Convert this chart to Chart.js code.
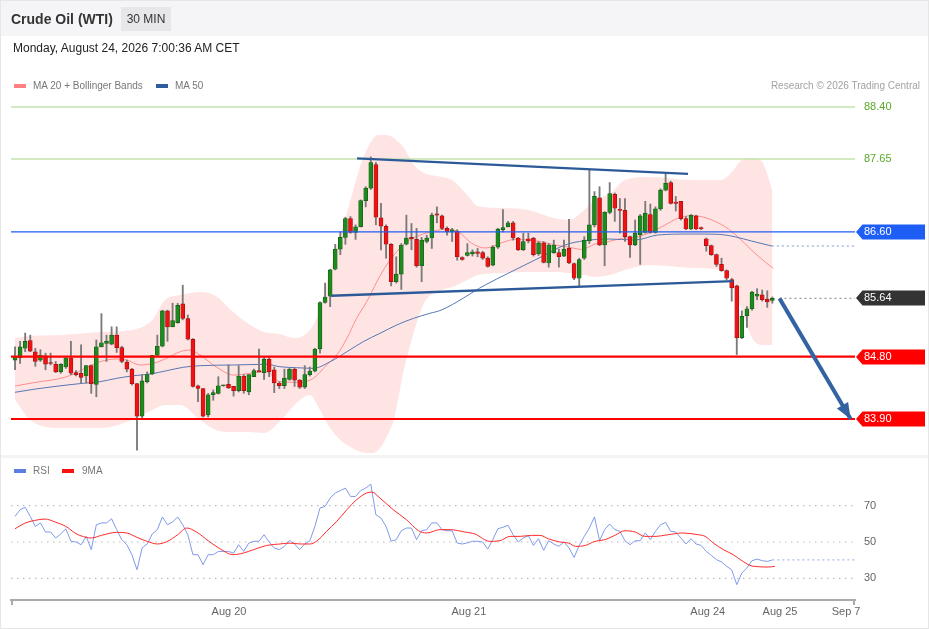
<!DOCTYPE html>
<html lang="en">
<head>
<meta charset="utf-8">
<title>Crude Oil (WTI) - 30 MIN</title>
<script src="https://cdn.jsdelivr.net/npm/chart.js@4.4.1/dist/chart.umd.min.js"></script>
<style>
  html, body { margin: 0; padding: 0; background: #fff; }
  #frame { position: relative; width: 929px; height: 629px; overflow: hidden;
           font-family: "Liberation Sans", Arial, sans-serif; color: #333; }
  #frame .topbar { position: absolute; left: 0; top: 0; width: 929px; height: 36px; background: #f5f5f7; }
  #frame .title { position: absolute; left: 11px; top: 10px; font-size: 14px; font-weight: bold; line-height: 18px; color: #333; }
  #frame .period { position: absolute; left: 121px; top: 7px; width: 50px; height: 24px; line-height: 24px;
                   text-align: center; font-size: 12px; background: #e7e7ea; color: #333; }
  #frame .stamp { position: absolute; left: 13px; top: 41px; font-size: 12px; line-height: 15px; color: #222; }
  #frame .key { position: absolute; width: 12px; height: 4px; }
  #frame .keytext { position: absolute; font-size: 10px; line-height: 12px; color: #777; }
  #frame .credit { position: absolute; right: 9px; top: 80px; font-size: 10px; line-height: 12px; color: #a2a2a2; }
  #frame .gap { position: absolute; left: 0; top: 455px; width: 929px; height: 3px; background: #f4f4f6; }
  #frame .edge { position: absolute; left: 0; top: 0; right: 0; bottom: 0; border: 1px solid #e6e6e6; pointer-events: none; }
  #chart { position: absolute; left: 0; top: 0; }
</style>
</head>
<body>
<div id="frame">
  <div class="topbar"></div>
  <div class="gap"></div>
  <canvas id="chart" width="929" height="629"></canvas>
  <div class="title">Crude Oil (WTI)</div>
  <div class="period">30 MIN</div>
  <div class="stamp">Monday, August 24, 2026 7:00:36 AM CET</div>
  <div class="key" style="left:14px;top:84px;background:#ff8080"></div>
  <div class="keytext" style="left:33px;top:80px">MA 20 + Bollinger Bands</div>
  <div class="key" style="left:156px;top:84px;background:#2f5d9e"></div>
  <div class="keytext" style="left:175px;top:80px">MA 50</div>
  <div class="credit">Research © 2026 Trading Central</div>
  <div class="key" style="left:14px;top:469px;background:#5b7fe6"></div>
  <div class="keytext" style="left:33px;top:465px">RSI</div>
  <div class="key" style="left:62px;top:469px;background:#ff1010"></div>
  <div class="keytext" style="left:82px;top:465px">9MA</div>
  <div class="edge"></div>
</div>
<script>
// 30 min candles, index 0 = first candle on the left
const candleOpen = [
  84.75, 84.78, 84.92, 85.03, 84.87, 84.75, 84.81, 84.71, 84.69, 84.58,
  84.65, 84.78, 84.57, 84.56, 84.52, 84.67, 84.40, 84.94, 84.99, 84.98,
  85.11, 84.93, 84.72, 84.62, 84.41, 83.94, 84.44, 84.55, 84.82, 84.95,
  85.46, 85.23, 85.29, 85.56, 85.35, 85.05, 84.38, 84.34, 83.96, 84.25,
  84.27, 84.38, 84.40, 84.37, 84.31, 84.52, 84.29, 84.51, 84.60, 84.57,
  84.76, 84.61, 84.42, 84.38, 84.47, 84.62, 84.46, 84.36, 84.54, 84.59,
  84.91, 85.58, 85.67, 86.06, 86.35, 86.52, 86.79, 86.59, 86.67, 87.05,
  87.23, 87.57, 86.80, 86.68, 86.42, 85.88, 85.99, 86.42, 86.52, 86.49,
  86.11, 86.46, 86.51, 86.86, 86.83, 86.65, 86.60, 86.61, 86.23, 86.26,
  86.28, 86.31, 86.30, 86.22, 86.12, 86.38, 86.63, 86.67, 86.73, 86.51,
  86.34, 86.50, 86.51, 86.28, 86.44, 86.15, 86.30, 86.30, 86.25, 86.36,
  86.14, 85.93, 86.22, 86.47, 86.70, 87.09, 86.41, 86.88, 87.14, 86.92,
  86.91, 86.53, 86.41, 86.56, 86.59, 86.85, 86.59, 86.93, 87.20, 87.31,
  87.03, 87.04, 86.79, 86.64, 86.83, 86.66, 86.50, 86.40, 86.27, 86.13,
  86.04, 85.91, 85.82, 85.07, 85.39, 85.49, 85.67, 85.69, 85.63, 85.61
];
const candleHigh = [
  84.94, 85.02, 85.14, 85.11, 84.92, 84.90, 84.85, 84.85, 84.73, 84.70,
  84.79, 85.02, 84.60, 84.97, 84.67, 84.68, 85.04, 85.42, 85.11, 85.23,
  85.23, 84.95, 84.75, 84.63, 84.41, 84.54, 84.58, 84.82, 85.11, 85.47,
  85.47, 85.57, 85.57, 85.83, 85.40, 85.06, 84.39, 84.34, 84.27, 84.32,
  84.51, 84.39, 84.68, 84.37, 84.67, 84.54, 84.54, 84.62, 84.91, 84.80,
  84.80, 84.65, 84.44, 84.62, 84.63, 84.63, 84.47, 84.67, 84.65, 84.92,
  85.59, 85.86, 86.06, 86.42, 86.60, 86.81, 86.82, 86.70, 87.06, 87.25,
  87.68, 87.60, 87.01, 86.70, 86.43, 86.24, 86.43, 86.84, 86.72, 86.65,
  86.52, 86.55, 86.87, 86.96, 86.84, 86.67, 86.65, 86.63, 86.24, 86.43,
  86.34, 86.36, 86.32, 86.24, 86.40, 86.65, 86.92, 86.75, 86.75, 86.52,
  86.58, 86.58, 86.52, 86.46, 86.46, 86.43, 86.48, 86.35, 86.48, 86.78,
  86.15, 86.22, 86.53, 87.49, 87.18, 87.25, 86.89, 87.31, 87.16, 87.08,
  87.08, 86.54, 86.77, 86.85, 87.04, 87.00, 86.96, 87.22, 87.44, 87.33,
  87.11, 87.04, 86.82, 86.85, 86.84, 86.67, 86.51, 86.41, 86.28, 86.22,
  86.05, 85.93, 85.83, 85.46, 85.52, 85.74, 85.78, 85.76, 85.75, 85.66
];
const candleLow = [
  84.61, 84.70, 84.87, 84.87, 84.66, 84.73, 84.61, 84.68, 84.57, 84.56,
  84.63, 84.54, 84.52, 84.42, 84.42, 84.27, 84.22, 84.94, 84.73, 84.97,
  84.86, 84.71, 84.58, 84.39, 83.45, 83.92, 84.42, 84.54, 84.80, 84.94,
  85.02, 85.23, 85.28, 85.33, 85.04, 84.36, 84.15, 83.93, 83.93, 84.17,
  84.26, 84.37, 84.34, 84.23, 84.29, 84.27, 84.25, 84.51, 84.58, 84.47,
  84.51, 84.28, 84.34, 84.34, 84.46, 84.37, 84.34, 84.34, 84.52, 84.58,
  84.85, 85.57, 85.52, 86.05, 86.27, 86.42, 86.58, 86.49, 86.67, 86.96,
  87.21, 86.70, 86.34, 86.22, 85.82, 85.86, 85.77, 86.41, 86.34, 86.09,
  85.88, 86.44, 86.36, 86.73, 86.63, 86.55, 86.46, 86.19, 86.19, 86.25,
  86.25, 86.24, 86.20, 86.09, 86.11, 86.36, 86.60, 86.67, 86.48, 86.33,
  86.33, 86.44, 86.25, 86.26, 86.15, 86.09, 86.29, 86.09, 86.24, 86.14,
  85.91, 85.82, 86.20, 86.43, 86.67, 86.40, 86.11, 86.86, 86.75, 86.58,
  86.46, 86.23, 86.40, 86.13, 86.58, 86.58, 86.58, 86.91, 87.19, 87.00,
  86.90, 86.77, 86.63, 86.63, 86.63, 86.63, 86.32, 86.26, 86.10, 86.03,
  85.91, 85.60, 84.83, 85.06, 85.22, 85.47, 85.62, 85.60, 85.51, 85.57
];
const candleClose = [
  84.80, 84.94, 85.02, 84.88, 84.73, 84.82, 84.69, 84.70, 84.58, 84.69,
  84.78, 84.56, 84.54, 84.50, 84.67, 84.41, 84.94, 85.00, 85.02, 85.11,
  84.93, 84.73, 84.62, 84.41, 83.94, 84.45, 84.54, 84.82, 84.95, 85.46,
  85.23, 85.32, 85.54, 85.35, 85.05, 84.37, 84.34, 83.94, 84.25, 84.28,
  84.38, 84.39, 84.35, 84.31, 84.52, 84.31, 84.54, 84.60, 84.58, 84.76,
  84.58, 84.42, 84.38, 84.49, 84.62, 84.46, 84.36, 84.54, 84.59, 84.91,
  85.58, 85.66, 86.05, 86.35, 86.52, 86.79, 86.59, 86.67, 87.05, 87.23,
  87.60, 86.81, 86.68, 86.42, 85.88, 85.99, 86.41, 86.51, 86.50, 86.11,
  86.48, 86.51, 86.84, 86.84, 86.65, 86.60, 86.63, 86.24, 86.20, 86.30,
  86.31, 86.29, 86.22, 86.10, 86.38, 86.64, 86.66, 86.73, 86.51, 86.34,
  86.46, 86.47, 86.27, 86.44, 86.16, 86.41, 86.41, 86.24, 86.35, 86.15,
  85.93, 86.20, 86.48, 86.70, 87.11, 86.41, 86.88, 87.15, 86.94, 86.91,
  86.53, 86.41, 86.58, 86.83, 86.87, 86.59, 86.93, 87.20, 87.30, 87.01,
  87.01, 86.79, 86.64, 86.84, 86.64, 86.64, 86.40, 86.27, 86.13, 86.04,
  85.93, 85.79, 85.07, 85.38, 85.49, 85.73, 85.70, 85.62, 85.59, 85.64
];

// indicator lines, [candle index, value] read at points along each curve
const ma20 = [[0,84.376],[3.6,84.423],[10.2,84.51],[16.7,84.726],[20,84.765],[22,84.751],[24.6,84.679],
  [27.2,84.703],[29.8,84.775],[32.5,84.871],[34.4,84.895],[36.4,84.823],[39.7,84.646],[43,84.534],
  [46.2,84.559],[49.5,84.582],[52.1,84.438],[56.1,84.429],[58.7,84.487],[61.3,84.679],[63.3,84.823],
  [65.3,85.064],[67.2,85.352],[69.2,85.592],[71.2,85.88],[73.1,86.121],[75.1,86.313],[77.1,86.457],
  [79.7,86.554],[81.6,86.593],[84.6,86.636],[87.2,86.601],[89.8,86.438],[92.5,86.366],[95.8,86.443],
  [98.4,86.492],[100.9,86.482],[103.6,86.457],[106.2,86.41],[108.8,86.381],[111.5,86.347],[114.1,86.424],
  [116.7,86.457],[119.4,86.506],[122.6,86.529],[125.3,86.601],[127.9,86.698],[130.4,86.795],[133.1,86.832],
  [135.1,86.818],[137.1,86.77],[139.7,86.673],[142.2,86.529],[144.9,86.337],[147.5,86.169],[149.2,86.073]];
const ma50 = [[0,84.285],[3.6,84.328],[10.2,84.39],[13.4,84.415],[16.7,84.438],[20,84.487],[23.3,84.524],
  [26.6,84.549],[29.8,84.596],[33.1,84.646],[36.4,84.669],[43,84.679],[49.5,84.689],[52.1,84.654],
  [55.4,84.64],[58.7,84.631],[62,84.726],[65.3,84.871],[68.5,85.015],[71.8,85.136],[75.1,85.256],
  [78.4,85.352],[81.6,85.424],[83.9,85.472],[92.5,85.833],[97,86.001],[103.6,86.241],[108.2,86.41],
  [112.1,86.472],[116.7,86.496],[122,86.482],[126.5,86.554],[133.1,86.568],[138.3,86.564],[141.6,86.529],
  [144.9,86.467],[148.9,86.395]];
const bbIndex = [0,3,9,17,23,27,29.5,32.5,36.4,39.5,42.5,46,49,52,55,58,60,62,64,66,68,70,71.5,73,74.5,
  76.5,78.5,80.5,84,86,89,91,96,101,106,109,112,114,117,120,125,133,139,141,143,145,147,149];
const bbUpper = [85.068,85.097,85.111,85.155,85.184,85.328,85.616,85.688,85.732,85.674,85.472,85.27,85.155,
  85.126,85.068,85.184,85.472,86.049,86.554,87.059,87.564,87.895,87.996,87.996,87.953,87.809,87.564,87.448,
  87.39,87.347,87.131,86.972,86.943,86.914,86.799,86.77,86.914,87.059,87.145,87.347,87.39,87.347,87.347,
  87.462,87.636,87.664,87.607,87.203];
const bbLower = [84.174,83.885,83.77,83.77,83.885,84.03,84.102,84.102,83.885,83.741,83.712,83.712,83.698,
  83.856,84.102,84.246,84.03,83.77,83.597,83.496,83.424,83.409,83.453,83.626,83.885,84.606,85.155,85.573,
  85.76,85.804,85.905,85.977,86.006,86.02,86.02,86.006,85.977,85.948,85.977,86.049,86.121,86.078,86.049,
  85.905,85.472,85.068,84.967,84.967];

// RSI, one value per candle
const rsiValues = [
  64.1, 67.8, 69.1, 64.1, 58.6, 60.5, 55.5, 55.5, 52.2, 54.4,
  57.3, 50.4, 50.0, 48.5, 53.1, 45.8, 59.5, 60.5, 60.5, 62.8,
  56.8, 51.3, 48.5, 43.0, 34.7, 46.7, 48.9, 54.4, 56.8, 63.8,
  59.5, 61.0, 63.8, 59.5, 54.0, 43.0, 43.0, 37.5, 43.0, 43.0,
  44.8, 44.8, 44.8, 43.9, 48.5, 44.8, 49.4, 50.4, 50.4, 54.0,
  50.0, 46.7, 45.8, 47.6, 50.9, 48.9, 45.8, 48.9, 50.7, 58.6,
  68.7, 69.6, 74.2, 77.0, 78.3, 79.7, 75.1, 75.1, 78.3, 79.7,
  81.9, 65.0, 63.2, 58.6, 50.4, 51.3, 56.2, 57.7, 57.7, 51.3,
  56.2, 56.8, 60.5, 60.5, 56.8, 56.2, 56.2, 49.4, 48.9, 49.5,
  50.4, 50.4, 50.0, 46.1, 51.3, 57.3, 58.1, 59.2, 54.0, 50.0,
  52.2, 53.5, 48.1, 51.8, 45.4, 50.7, 48.9, 47.6, 50.0, 46.7,
  41.5, 48.1, 53.1, 57.7, 63.8, 50.7, 56.8, 59.9, 56.8, 55.9,
  50.7, 48.5, 50.7, 50.7, 55.0, 51.3, 55.9, 59.5, 60.8, 55.9,
  55.5, 52.2, 48.9, 51.8, 48.9, 48.1, 44.8, 42.6, 40.3, 39.0,
  36.6, 34.7, 26.5, 32.9, 35.7, 39.7, 40.6, 39.7, 39.3, 40.1
];
const rsiMa9 = [[0,57.3],[2,60.45],[3.9,61.9],[5.9,62.65],[7.9,61],[10,58.6],[12,54.6],[14,52.55],[15,52.2],
  [17,53.65],[20,55.3],[22,54.95],[24,52.55],[26,50.35],[28,48.9],[30,50.35],[32,54],[33.8,57.7],[35.7,55.5],
  [38,50.7],[40.3,46.3],[42.9,43],[44.9,43.9],[46.9,45.75],[49.5,48.1],[52.1,48.9],[54.1,49.4],[56.1,48.9],
  [58,48.9],[59.3,50.35],[61.3,55.85],[63.3,61.4],[65.3,67.8],[67.2,73.3],[69.2,77],[70.2,77.5],[71.8,74.2],
  [74.4,67.8],[77,62.3],[79.4,56.2],[81,54.95],[83.6,56.8],[85.6,56.8],[88.5,55.5],[90.5,54.4],[93.4,50.35],
  [95.4,50.7],[97.4,53.1],[99.4,53.1],[101.6,53.65],[103.3,53.65],[104.9,51.8],[107.2,50],[108.9,49.4],
  [110.3,47.6],[112.2,48.1],[114.1,50.35],[116.1,51.3],[118,53.65],[120,56.2],[122,55.5],[123.9,53.1],
  [125.9,53.1],[128.5,54],[131.2,54.95],[134.4,54],[135.8,53.1],[137.4,49.4],[139.4,45.75],[141.3,43],
  [143,39.7],[144.6,37.1],[146.2,36.4],[148.2,36.2],[149.5,36.6]];

// key levels and drawn lines
const targetLevels = [88.40, 87.65];
const pivotLevel = 86.60;
const supportLevels = [84.80, 83.90];
const lastPrice = 85.64;
const resistanceLine = [[67.3, 87.66], [132.4, 87.434]];
const supportLine = [[62.2, 85.678], [141.3, 85.89]];
const targetPath = [[150.4, 85.64], [164.4, 83.90]];
const rsiLevels = [30, 50, 70];

// date ticks (candle index) and their labels
const dateTickPos = [42.1, 89.3, 136.3, 150.5, 163.5];
const dateTickLabels = ['Aug 20', 'Aug 21', 'Aug 24', 'Aug 25', 'Sep 7'];

const X_MIN = -0.79, X_MAX = 165.26;
const UP = '#1d8a1d', UP_EDGE = '#145c14', DOWN = '#f01212', DOWN_EDGE = '#9c1010';
const GREEN_TXT = '#5aa829';

const pts = pairs => pairs.map(([x, y]) => ({x, y}));
const flat = (v, x0, x1) => [{x: x0, y: v}, {x: x1, y: v}];
const isUp = candleOpen.map((o, i) => candleClose[i] >= o);
const lastX = candleOpen.length - 1;

const smooth = {pointRadius: 0, cubicInterpolationMode: 'monotone', fill: false};
const plain = {pointRadius: 0, tension: 0, fill: false};

const datasets = [
  Object.assign({label: 'BB upper', data: bbIndex.map((x, k) => ({x, y: bbUpper[k]})),
    borderWidth: 0, backgroundColor: 'rgba(255,170,170,0.32)', order: 30}, smooth, {fill: '+1'}),
  Object.assign({label: 'BB lower', data: bbIndex.map((x, k) => ({x, y: bbLower[k]})),
    borderWidth: 0, order: 30}, smooth),
  Object.assign({label: 'MA 50', data: pts(ma50), borderColor: '#5577b4', borderWidth: 1, order: 20}, smooth),
  Object.assign({label: 'MA 20', data: pts(ma20), borderColor: '#ff8c8c', borderWidth: 1, order: 20}, smooth),
  Object.assign({label: 'MA 50 ext', data: flat(ma50[ma50.length - 1][1], ma50[ma50.length - 1][0], X_MAX),
    borderColor: '#a9bbe0', borderWidth: 1.4, borderDash: [2, 3], order: 20}, plain),
  {type: 'bar', label: 'wick', data: candleOpen.map((o, i) => ({x: i, y: [candleLow[i], candleHigh[i]]})),
    backgroundColor: '#7a7a7a', barThickness: 1.2, grouped: false, order: 12},
  {type: 'bar', label: 'body', data: candleOpen.map((o, i) => ({x: i, y: [o, candleClose[i]]})),
    backgroundColor: isUp.map(u => u ? UP : DOWN), borderColor: isUp.map(u => u ? UP_EDGE : DOWN_EDGE),
    borderWidth: 0.7, borderSkipped: false, barThickness: 4, minBarLength: 1, grouped: false, order: 11}
];
targetLevels.forEach(v => datasets.push(Object.assign({label: 'target ' + v, data: flat(v, X_MIN, X_MAX),
  borderColor: '#c3e2ae', borderWidth: 1.6, order: 8}, plain)));
datasets.push(Object.assign({label: 'pivot', data: flat(pivotLevel, X_MIN, X_MAX),
  borderColor: '#1f5ef5', borderWidth: 1.3, order: 8}, plain));
supportLevels.forEach(v => datasets.push(Object.assign({label: 'support ' + v, data: flat(v, X_MIN, X_MAX),
  borderColor: '#ff0000', borderWidth: 2.2, order: 8}, plain)));
datasets.push(Object.assign({label: 'last', data: flat(lastPrice, targetPath[0][0], X_MAX),
  borderColor: '#9a9a9a', borderWidth: 1.2, borderDash: [2, 3], order: 8}, plain));
datasets.push(Object.assign({label: 'resistance line', data: pts(resistanceLine),
  borderColor: '#2c5a98', borderWidth: 2.3, order: 5}, plain));
datasets.push(Object.assign({label: 'support line', data: pts(supportLine),
  borderColor: '#2c5a98', borderWidth: 2.3, order: 5}, plain));
const arrowIndex = datasets.length;
datasets.push(Object.assign({label: 'target path', data: pts(targetPath),
  borderColor: '#3363a3', borderWidth: 4, order: 4}, plain));
rsiLevels.forEach(v => datasets.push(Object.assign({label: 'rsi ' + v, yAxisID: 'yRsi', data: flat(v, X_MIN, X_MAX),
  borderColor: '#bdbdbd', borderWidth: 1.2, borderDash: [1.5, 4.5], order: 30}, plain)));
datasets.push(Object.assign({label: 'RSI', yAxisID: 'yRsi', data: rsiValues.map((y, x) => ({x, y})),
  borderColor: '#7f9aea', borderWidth: 1, order: 6}, plain));
datasets.push(Object.assign({label: '9MA', yAxisID: 'yRsi', data: pts(rsiMa9),
  borderColor: '#ff2a2a', borderWidth: 1, order: 5}, smooth));
datasets.push(Object.assign({label: 'RSI ext', yAxisID: 'yRsi', data: flat(rsiValues[lastX], lastX, X_MAX),
  borderColor: '#a9bbe9', borderWidth: 1.2, borderDash: [2, 3], order: 6}, plain));

// price tags on the right, the arrow head and the axis end caps
const tagColors = {pivot: '#1f5ef5', last: '#333333', support: '#ff0000'};
const overlays = {
  id: 'overlays',
  beforeDraw(chart) {
    const ctx = chart.ctx, y = chart.scales.y, left = chart.chartArea.right + 1;
    const tags = [[pivotLevel, tagColors.pivot], [lastPrice, tagColors.last]]
      .concat(supportLevels.map(v => [v, tagColors.support]));
    ctx.save();
    tags.forEach(([v, color]) => {
      const py = Math.round(y.getPixelForValue(v));
      ctx.fillStyle = color;
      ctx.beginPath();
      ctx.moveTo(left, py);
      ctx.lineTo(left + 6.5, py - 7.5);
      ctx.lineTo(925, py - 7.5);
      ctx.lineTo(925, py + 7.5);
      ctx.lineTo(left + 6.5, py + 7.5);
      ctx.closePath();
      ctx.fill();
    });
    ctx.restore();
  },
  afterDatasetsDraw(chart) {
    const pts2 = chart.getDatasetMeta(arrowIndex).data;
    if (pts2.length < 2) return;
    const a = pts2[0], b = pts2[1], ctx = chart.ctx;
    const len = Math.hypot(b.x - a.x, b.y - a.y), ux = (b.x - a.x) / len, uy = (b.y - a.y) / len;
    const bx = b.x - ux * 16, by = b.y - uy * 16;
    ctx.save();
    ctx.fillStyle = '#3363a3';
    ctx.beginPath();
    ctx.moveTo(b.x, b.y);
    ctx.lineTo(bx - uy * 6.5, by + ux * 6.5);
    ctx.lineTo(bx + uy * 6.5, by - ux * 6.5);
    ctx.closePath();
    ctx.fill();
    ctx.restore();
  },
  afterDraw(chart) {
    const {ctx, chartArea} = chart;
    ctx.save();
    ctx.strokeStyle = '#aaaaaa';
    ctx.lineWidth = 2;
    [chartArea.left + 1, chartArea.right - 1].forEach(x => {
      ctx.beginPath();
      ctx.moveTo(x, chartArea.bottom);
      ctx.lineTo(x, chartArea.bottom + 5);
      ctx.stroke();
    });
    ctx.restore();
  }
};

Chart.defaults.font.family = '"Liberation Sans", Arial, sans-serif';

new Chart(document.getElementById('chart'), {
  type: 'line',
  data: {datasets},
  options: {
    responsive: false,
    animation: false,
    events: [],
    layout: {padding: {left: 11, right: 14, top: 95, bottom: 0}},
    plugins: {legend: {display: false}, tooltip: {enabled: false}},
    scales: {
      x: {
        type: 'linear', min: X_MIN, max: X_MAX, offset: false,
        grid: {display: false, drawTicks: false},
        border: {display: true, color: '#aaaaaa', width: 2},
        afterBuildTicks: s => { s.ticks = dateTickPos.map(v => ({value: v})); },
        afterFit: s => { s.height = 29; },
        ticks: {autoSkip: false, maxRotation: 0, padding: 5, color: '#666', font: {size: 11},
          callback: (v, i) => dateTickLabels[i]}
      },
      y: {
        type: 'linear', position: 'right', stack: 'panes', stackWeight: 360,
        min: 83.381, max: 88.573,
        grid: {display: false, drawTicks: false}, border: {display: false},
        afterBuildTicks: s => {
          s.ticks = targetLevels.concat([pivotLevel, lastPrice], supportLevels).map(v => ({value: v}));
        },
        afterFit: s => { s.width = 60; },
        ticks: {autoSkip: false, padding: 9, font: {size: 11},
          color: c => (c.tick && targetLevels.includes(c.tick.value)) ? GREEN_TXT : '#ffffff',
          callback: v => v.toFixed(2)}
      },
      yRsi: {
        type: 'linear', position: 'right', stack: 'panes', stackWeight: 145,
        min: 18.04, max: 97.93,
        grid: {display: false, drawTicks: false}, border: {display: false},
        afterBuildTicks: s => { s.ticks = rsiLevels.map(v => ({value: v})); },
        afterFit: s => { s.width = 60; },
        ticks: {autoSkip: false, padding: 9, color: '#666', font: {size: 11}, callback: v => String(v)}
      }
    }
  },
  plugins: [overlays]
});
</script>
</body>
</html>
